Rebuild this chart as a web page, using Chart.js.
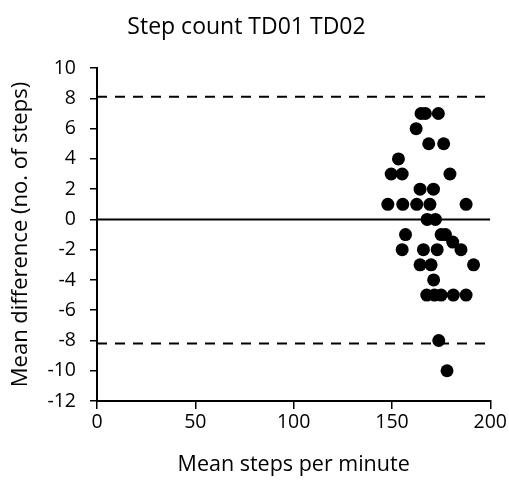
<!DOCTYPE html>
<html>
<head>
<meta charset="utf-8">
<script src="https://cdn.jsdelivr.net/npm/chart.js@4/dist/chart.umd.min.js"></script>
<style>
  html, body { margin: 0; padding: 0; background: #fff; }
  #wrap { width: 509px; height: 490px; }
</style>
</head>
<body>
<div id="wrap"><canvas id="blandAltman" width="509" height="490"></canvas></div>
<script>
// mean steps per minute (x) and mean difference (y) per participant
const meanSteps = [164.8, 167, 173.6, 162.3, 168.7, 176.3, 153.3, 149.6, 155.2, 179.5,
  164.3, 171.1, 147.9, 155.5, 162.6, 169.3, 187.7, 167.9, 172.1, 156.9,
  175, 177.2, 180.9, 155.2, 166, 173, 185.1, 164.3, 169.9, 191.5,
  171.2, 167.7, 171.6, 175, 181.2, 187.7, 173.8, 178];
const meanDiff = [7, 7, 7, 6, 5, 5, 4, 3, 3, 3,
  2, 2, 1, 1, 1, 1, 1, 0, 0, -1,
  -1, -1, -1.5, -2, -2, -2, -2, -3, -3, -3,
  -4, -5, -5, -5, -5, -5, -8, -10];

const biasLine = 0;
const upperLimit = 8.1;
const lowerLimit = -8.2;
const xRange = [0, 200];
const yRange = [-12, 10];

const font = "'Open Sans', 'DejaVu Sans', sans-serif";

function hLine(y) {
  return [{ x: xRange[0], y: y }, { x: xRange[1], y: y }];
}

const points = meanSteps.map((x, i) => ({ x: x, y: meanDiff[i] }));

new Chart(document.getElementById("blandAltman").getContext("2d"), {
  type: "scatter",
  data: {
    datasets: [
      {
        label: "Difference",
        data: points,
        backgroundColor: "#000",
        borderWidth: 0,
        pointRadius: 6.5
      },
      {
        label: "Bias",
        data: hLine(biasLine),
        showLine: true,
        borderColor: "#000",
        borderWidth: 2,
        pointRadius: 0
      },
      {
        label: "Upper limit",
        data: hLine(upperLimit),
        showLine: true,
        borderColor: "#000",
        borderWidth: 2,
        borderDash: [10, 8],
        pointRadius: 0
      },
      {
        label: "Lower limit",
        data: hLine(lowerLimit),
        showLine: true,
        borderColor: "#000",
        borderWidth: 2,
        borderDash: [10, 8],
        pointRadius: 0
      }
    ]
  },
  options: {
    responsive: false,
    animation: false,
    layout: { padding: { left: 0, right: 16, top: 0, bottom: 0 } },
    plugins: {
      legend: { display: false },
      tooltip: { enabled: false },
      title: {
        display: true,
        text: "Step count TD01 TD02",
        color: "#000",
        font: { family: font, size: 23, weight: "normal" },
        padding: { top: 14, bottom: 26.5 }
      }
    },
    scales: {
      x: {
        type: "linear",
        min: xRange[0],
        max: xRange[1],
        ticks: { stepSize: 50, color: "#000", padding: 2, font: { family: font, size: 19.5 } },
        grid: { drawOnChartArea: false, drawTicks: true, tickLength: 8, color: "#000", lineWidth: 1.5 },
        border: { color: "#000", width: 2 },
        title: {
          display: true,
          text: "Mean steps per minute",
          color: "#000",
          font: { family: font, size: 21.5 },
          padding: { top: 0, bottom: 12 }
        },
        afterFit: s => { s.height = 89; }
      },
      y: {
        type: "linear",
        min: yRange[0],
        max: yRange[1],
        ticks: { stepSize: 2, color: "#000", padding: 14, font: { family: font, size: 19.5 } },
        grid: { drawOnChartArea: false, drawTicks: true, tickLength: 7, color: "#000", lineWidth: 1.5 },
        border: { color: "#000", width: 2 },
        title: {
          display: true,
          text: "Mean difference (no. of steps)",
          color: "#000",
          font: { family: font, size: 22 },
          padding: { top: 8, bottom: 0 }
        },
        afterFit: s => { s.width = 97; }
      }
    }
  }
});
</script>
</body>
</html>
